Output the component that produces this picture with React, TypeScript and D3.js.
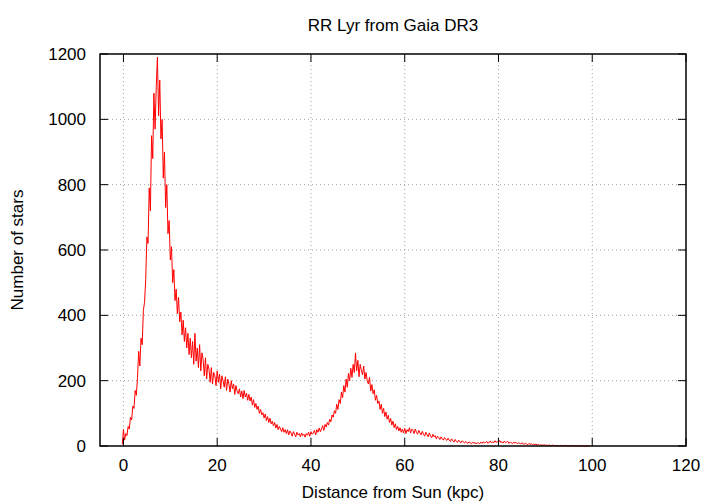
// RR Lyr distance histogram (Gaia DR3), gnuplot-style line plot drawn with d3 scales.
import * as d3 from "d3";
import React, { useMemo } from "react";

// ── Data ──────────────────────────────────────────────────────────────────────
// Histogram bins: first bin centre and bin width in kpc
const BIN_START = -0.25;
const BIN_WIDTH = 0.25;

// Star counts per bin (20 bins = 5 kpc per row)
const COUNTS: number[] = [
  5, 50, 18, 38, 32, 60, 52, 88, 80, 122, 115, 170, 155, 210, 290, 245, 330, 310, 415, 440,
  510, 640, 620, 790, 720, 950, 880, 1080, 970, 1100, 1190, 1010, 1120, 940, 1000, 820, 900, 730, 800, 650,
  690, 570, 610, 500, 540, 445, 480, 405, 455, 380, 410, 340, 385, 320, 362, 300, 345, 280, 330, 270,
  320, 250, 345, 260, 300, 240, 310, 230, 285, 265, 215, 270, 205, 250, 235, 195, 240, 190, 225, 215,
  185, 230, 195, 220, 175, 215, 200, 180, 212, 170, 205, 190, 165, 200, 175, 190, 158, 185, 168, 160,
  175, 150, 168, 145, 170, 150, 162, 140, 158, 138, 150, 125, 142, 118, 130, 112, 122, 100, 112, 95,
  102, 86, 98, 78, 90, 72, 85, 68, 76, 62, 72, 55, 66, 50, 60, 52, 44, 56, 42, 50,
  38, 50, 34, 46, 40, 30, 44, 36, 28, 42, 34, 38, 28, 40, 32, 36, 27, 38, 33, 42,
  30, 44, 36, 40, 48, 34, 50, 42, 55, 44, 52, 62, 48, 66, 58, 72, 64, 82, 74, 95,
  88, 108, 100, 128, 112, 142, 130, 165, 148, 185, 165, 205, 180, 222, 200, 238, 210, 250, 225, 285,
  230, 262, 212, 250, 232, 218, 245, 205, 225, 200, 190, 210, 168, 188, 160, 172, 140, 155, 130, 138,
  112, 128, 100, 115, 90, 104, 82, 94, 72, 84, 64, 76, 56, 68, 50, 60, 46, 56, 42, 52,
  40, 54, 38, 50, 44, 56, 40, 52, 48, 38, 52, 42, 36, 48, 40, 34, 45, 36, 30, 42,
  34, 28, 40, 30, 25, 36, 28, 32, 22, 30, 26, 20, 28, 22, 18, 26, 20, 17, 24, 18,
  14, 22, 16, 12, 20, 14, 11, 18, 13, 10, 16, 12, 9, 14, 10, 8, 13, 9, 7, 12,
  8, 11, 6, 10, 9, 7, 12, 8, 13, 9, 11, 14, 8, 12, 15, 9, 13, 10, 16, 11,
  14, 10, 17, 11, 13, 9, 15, 10, 12, 14, 8, 12, 10, 7, 12, 9, 11, 7, 10, 8,
  6, 10, 7, 5, 9, 6, 4, 8, 5, 7, 3, 6, 4, 6, 3, 5, 2, 4, 3, 2,
  4, 2, 3, 1, 3, 2, 1, 3, 1, 2, 0, 2, 1, 0, 2, 1, 0, 1, 2, 0,
  1, 0, 1, 0, 2, 0, 1, 0, 1, 0, 0, 1, 0, 1, 0, 0, 1, 0, 0, 0,
];

const X_TICKS = [0, 20, 40, 60, 80, 100, 120];
const Y_TICKS = [0, 200, 400, 600, 800, 1000, 1200];

const TITLE = "RR Lyr from Gaia DR3";
const X_LABEL = "Distance from Sun (kpc)";
const Y_LABEL = "Number of stars";

// ── Layout ────────────────────────────────────────────────────────────────────
const W = 720;
const H = 504;
const M = { left: 100, right: 34, top: 54, bottom: 58 };
const FONT = "'Liberation Sans', Arial, sans-serif";
const FS = 17;

export default function App() {
  const x = useMemo(
    () => d3.scaleLinear().domain([-5, 120]).range([M.left, W - M.right]),
    []
  );
  const y = useMemo(
    () => d3.scaleLinear().domain([0, 1200]).range([H - M.bottom, M.top]),
    []
  );

  const path = useMemo(() => {
    const line = d3
      .line<number>()
      .x((_, i) => x(BIN_START + i * BIN_WIDTH))
      .y((d) => y(d));
    return line(COUNTS) ?? "";
  }, [x, y]);

  const [x0, x1] = x.range();
  const [y0, y1] = y.range();

  return (
    <svg
      width={W}
      height={H}
      viewBox={`0 0 ${W} ${H}`}
      style={{ position: "absolute", left: 0, top: 0, background: "#fff" }}
      fontFamily={FONT}
    >
      {/* grid */}
      <g stroke="#a0a0a0" strokeWidth={1} strokeDasharray="1,3">
        {X_TICKS.filter((t) => x(t) > x0 + 1 && x(t) < x1 - 1).map((t) => (
          <line key={`gx${t}`} x1={x(t)} x2={x(t)} y1={y0} y2={y1} />
        ))}
        {Y_TICKS.filter((t) => y(t) < y0 - 1 && y(t) > y1 + 1).map((t) => (
          <line key={`gy${t}`} x1={x0} x2={x1} y1={y(t)} y2={y(t)} />
        ))}
      </g>

      {/* data */}
      <path d={path} fill="none" stroke="#ff0000" strokeWidth={1} />

      {/* ticks (mirrored, inward) */}
      <g stroke="#000" strokeWidth={1}>
        {X_TICKS.map((t) => (
          <g key={`tx${t}`}>
            <line x1={x(t)} x2={x(t)} y1={y0} y2={y0 - 8} />
            <line x1={x(t)} x2={x(t)} y1={y1} y2={y1 + 8} />
          </g>
        ))}
        {Y_TICKS.map((t) => (
          <g key={`ty${t}`}>
            <line x1={x0} x2={x0 + 8} y1={y(t)} y2={y(t)} />
            <line x1={x1} x2={x1 - 8} y1={y(t)} y2={y(t)} />
          </g>
        ))}
      </g>

      {/* border */}
      <rect
        x={x0}
        y={y1}
        width={x1 - x0}
        height={y0 - y1}
        fill="none"
        stroke="#000"
        strokeWidth={1.5}
      />

      {/* tick labels */}
      <g fontSize={FS} fill="#000">
        {X_TICKS.map((t) => (
          <text key={`lx${t}`} x={x(t)} y={y0 + 25} textAnchor="middle">
            {t}
          </text>
        ))}
        {Y_TICKS.map((t) => (
          <text key={`ly${t}`} x={x0 - 14} y={y(t) + 6} textAnchor="end">
            {t}
          </text>
        ))}
      </g>

      {/* labels */}
      <text x={(x0 + x1) / 2} y={31} textAnchor="middle" fontSize={FS}>
        {TITLE}
      </text>
      <text x={(x0 + x1) / 2} y={H - 6} textAnchor="middle" fontSize={FS}>
        {X_LABEL}
      </text>
      <text
        transform={`translate(23,${(y0 + y1) / 2}) rotate(-90)`}
        textAnchor="middle"
        fontSize={FS}
      >
        {Y_LABEL}
      </text>
    </svg>
  );
}
